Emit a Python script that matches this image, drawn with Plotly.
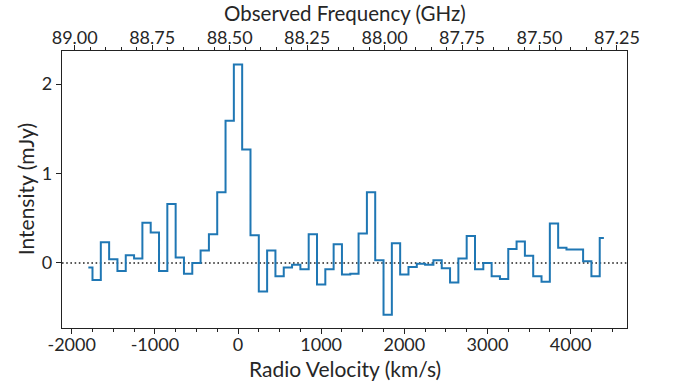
import plotly.graph_objects as go

# channel centres (km/s) and flux density (mJy)
velocity = [-1800, -1700, -1600, -1500, -1400, -1300, -1200, -1100, -1000, -900,
            -800, -700, -600, -500, -400, -300, -200, -100, 0, 100,
            200, 300, 400, 500, 600, 700, 800, 900, 1000, 1100,
            1200, 1300, 1400, 1500, 1600, 1700, 1800, 1900, 2000, 2100,
            2200, 2300, 2400, 2500, 2600, 2700, 2800, 2900, 3000, 3100,
            3200, 3300, 3400, 3500, 3600, 3700, 3800, 3900, 4000, 4100,
            4200, 4300, 4400]
intensity = [-0.05, -0.19, 0.23, 0.04, -0.09, 0.085, 0.05, 0.45, 0.34, -0.09,
             0.66, 0.06, -0.12, 0.0, 0.14, 0.32, 0.79, 1.59, 2.22, 1.27,
             0.31, -0.32, 0.14, -0.15, -0.05, -0.02, -0.07, 0.32, -0.24, -0.07,
             0.21, -0.13, -0.12, 0.33, 0.79, 0.03, -0.58, 0.22, -0.13, -0.045,
             -0.01, -0.02, 0.03, -0.06, -0.22, 0.05, 0.30, -0.07, 0.0, -0.15,
             -0.18, 0.155, 0.24, 0.08, -0.15, -0.21, 0.44, 0.17, 0.15, 0.15,
             0.02, -0.15, 0.28]

vel_ticks = [-2000, -1000, 0, 1000, 2000, 3000, 4000]
vel_ticktext = ["-2000", "-1000", "0", "1000", "2000", "3000", "4000"]
freq_ticks = [89.00, 88.75, 88.50, 88.25, 88.00, 87.75, 87.50, 87.25]
freq_ticktext = ["89.00", "88.75", "88.50", "88.25", "88.00", "87.75", "87.50", "87.25"]
freq_minor = [89.00 - 0.05 * i for i in range(0, 36)]
int_ticks = [0, 1, 2]

FONT = "Lato"
TXT = "#262626"
AX = "#222222"

fig = go.Figure()
fig.add_trace(go.Scatter(x=velocity, y=intensity, mode="lines",
                         line=dict(shape="hvh", color="#1f77b4", width=2),
                         showlegend=False, hoverinfo="skip"))
# dummy trace for the frequency axis
fig.add_trace(go.Scatter(x=[88.0], y=[0], xaxis="x2", yaxis="y", mode="markers",
                         marker=dict(opacity=0), showlegend=False, hoverinfo="skip"))

fig.add_shape(type="line", xref="paper", yref="y", x0=0, x1=1, y0=0, y1=0,
              line=dict(color="#222222", width=1.6, dash="1.6px,2.6px"), layer="below")

fig.update_layout(
    width=673, height=383,
    margin=dict(l=62.3, r=45.7, t=51, b=55.3),
    paper_bgcolor="white", plot_bgcolor="white",
    font=dict(family=FONT, color=TXT, size=18),
    xaxis=dict(range=[-2116.7, 4678], tickmode="array", tickvals=vel_ticks,
               ticktext=vel_ticktext, ticks="outside", ticklen=5, tickwidth=1.1,
               tickcolor=AX, showline=True, linecolor=AX, linewidth=1.3,
               mirror=False, showgrid=False, zeroline=False, ticklabelstandoff=-5,
               tickfont=dict(size=18, family=FONT, color=TXT),
               minor=dict(dtick=250, tick0=0, ticks="outside", ticklen=3,
                          tickwidth=1, tickcolor=AX, showgrid=False)),
    xaxis2=dict(range=[89.041, 87.2177], overlaying="x", side="top", anchor="y",
                tickmode="array", tickvals=freq_ticks, ticktext=freq_ticktext,
                ticks="outside", ticklen=5, tickwidth=1.1, tickcolor=AX,
                showline=True, linecolor=AX, linewidth=1.3, showgrid=False,
                zeroline=False, ticklabelstandoff=-6,
                tickfont=dict(size=18, family=FONT, color=TXT),
                minor=dict(tickmode="array", tickvals=freq_minor, ticks="outside",
                           ticklen=3, tickwidth=1, tickcolor=AX, showgrid=False)),
    yaxis=dict(range=[-0.728, 2.371], tickmode="array", tickvals=int_ticks,
               ticks="outside", ticklen=5, tickwidth=1.1, tickcolor=AX,
               showline=True, linecolor=AX, linewidth=1.3, mirror=True,
               showgrid=False, zeroline=False,
               tickfont=dict(size=18, family=FONT, color=TXT)),
    annotations=[
        dict(text="Radio Velocity (km/s)", xref="paper", yref="paper", x=0.5,
             y=-0.1456, xanchor="center", yanchor="middle", showarrow=False,
             font=dict(size=21, family=FONT, color=TXT)),
        dict(text="Observed Frequency (GHz)", xref="paper", yref="paper", x=0.5,
             y=1.138, xanchor="center", yanchor="middle", showarrow=False,
             font=dict(size=20.5, family=FONT, color=TXT)),
        dict(text="Intensity (mJy)", xref="paper", yref="paper", x=-0.0642,
             y=0.5, xanchor="center", yanchor="middle", showarrow=False,
             textangle=-90, font=dict(size=21, family=FONT, color=TXT)),
    ],
)

fig.write_html("out.html")
